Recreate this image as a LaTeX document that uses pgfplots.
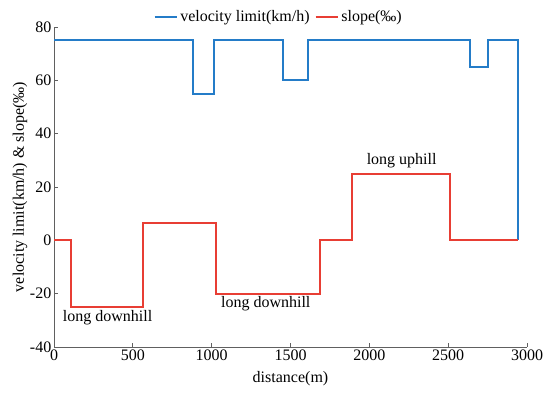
\documentclass[border=0pt]{standalone}
\usepackage{pgfplots}
\pgfplotsset{compat=1.18}
\usepackage{fontspec}
\setmainfont{Liberation Serif}
\definecolor{vblue}{RGB}{36,124,200}
\definecolor{sred}{RGB}{232,62,52}
\begin{document}
\fontsize{16}{19}\selectfont
\begin{tikzpicture}
\begin{axis}[
  name=ax,
  scale only axis,
  width=473pt, height=320pt,
  xmin=0, xmax=3000, ymin=-40, ymax=80,
  axis lines=left,
  axis line style={-, draw=gray!75!black, line width=0.9pt},
  xtick={0,500,...,3000},
  ytick={-40,-20,...,80},
  tick align=inside,
  major tick length=4pt,
  tick style={draw=gray!75!black, line width=0.9pt},
  ticklabel style={font=\fontsize{16}{19}\selectfont},
  yticklabel style={inner xsep=2.5pt},
  xticklabel style={inner ysep=3pt},
  /pgf/number format/assume math mode=true,
  /pgf/number format/1000 sep={},
  xlabel={distance(m)},
  ylabel={velocity limit(km/h) \& slope(‰)},
  label style={font=\fontsize{16}{19}\selectfont},
  xlabel style={at={(axis description cs:0.5,-0.1)}, anchor=center},
  ylabel style={at={(axis description cs:-0.072,0.5)}, anchor=center},
  legend columns=2,
  legend style={at={(0.475,1.0)}, anchor=south, draw=none, fill=none,
    inner sep=1pt,
    font=\fontsize{16}{19}\selectfont, /tikz/every even column/.append style={column sep=3pt}},
  legend image code/.code={\draw[#1] (0cm,0cm) -- (0.8cm,0cm);},
  clip=false,
]
\addplot[draw=vblue, line width=2pt, mark=none] coordinates {
  (0,75) (880,75) (880,55) (1015,55) (1015,75) (1450,75) (1450,60) (1610,60)
  (1610,75) (2640,75) (2640,65) (2755,65) (2755,75) (2940,75) (2940,0)
};
\addlegendentry{velocity limit(km/h)}
\addplot[draw=sred, line width=2pt, mark=none] coordinates {
  (0,0) (105,0) (105,-25) (565,-25) (565,6.5) (1030,6.5) (1030,-20) (1688,-20)
  (1688,0) (1893,0) (1893,25) (2510,25) (2510,0) (2940,0)
};
\addlegendentry{slope(‰)}
\node[font=\fontsize{16}{19}\selectfont] at (axis cs:340,-29) {long downhill};
\node[font=\fontsize{16}{19}\selectfont] at (axis cs:1343,-23.6) {long downhill};
\node[font=\fontsize{16}{19}\selectfont] at (axis cs:2205,30) {long uphill};
\end{axis}
\pgfresetboundingbox
\path ([xshift=-54pt,yshift=-47pt]ax.south west) rectangle ([xshift=23pt,yshift=27pt]ax.north east);
\end{tikzpicture}
\end{document}
